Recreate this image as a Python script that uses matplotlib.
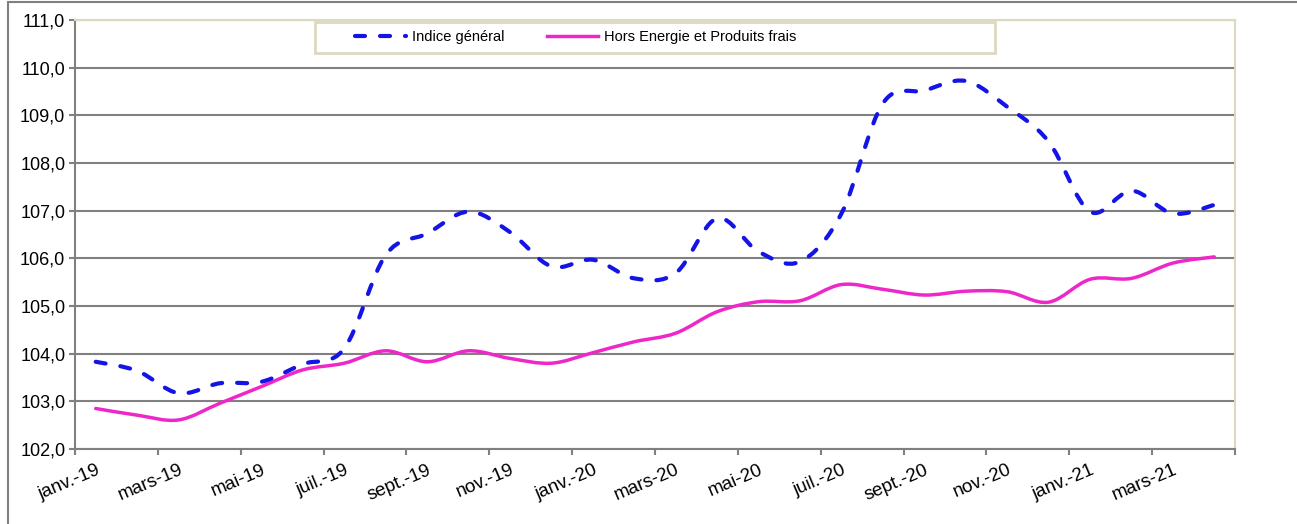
import matplotlib
matplotlib.use("Agg")
import matplotlib.pyplot as plt
import numpy as np
from matplotlib.path import Path
from matplotlib.patches import PathPatch, Rectangle
from matplotlib.lines import Line2D

plt.rcParams['font.family'] = ['Liberation Sans', 'DejaVu Sans']

months = ['janv.-19', 'févr.-19', 'mars-19', 'avr.-19', 'mai-19', 'juin-19',
          'juil.-19', 'août-19', 'sept.-19', 'oct.-19', 'nov.-19', 'déc.-19',
          'janv.-20', 'févr.-20', 'mars-20', 'avr.-20', 'mai-20', 'juin-20',
          'juil.-20', 'août-20', 'sept.-20', 'oct.-20', 'nov.-20', 'déc.-20',
          'janv.-21', 'févr.-21', 'mars-21', 'avr.-21']

indice_general = [103.83, 103.64, 103.17, 103.38, 103.41, 103.78, 104.11, 106.07,
                  106.52, 106.98, 106.55, 105.83, 105.97, 105.58, 105.69, 106.84,
                  106.14, 105.93, 106.94, 109.25, 109.52, 109.72, 109.18, 108.45,
                  106.98, 107.42, 106.94, 107.12]

hors_energie = [102.85, 102.71, 102.61, 102.96, 103.31, 103.66, 103.80, 104.06,
                103.83, 104.06, 103.90, 103.80, 104.02, 104.25, 104.43, 104.88,
                105.09, 105.11, 105.45, 105.35, 105.23, 105.31, 105.30, 105.08,
                105.56, 105.58, 105.90, 106.03]

blue = '#1414E6'
pink = '#EE28C8'
grey = '#808080'
beige = '#DDD8C0'
dash = (0, (2.4, 3.6))


def smooth_path(xs, ys):
    # Excel-like smoothed line: cubic Bezier through the points
    pts = np.column_stack([xs, ys]).astype(float)
    n = len(pts)
    verts = [tuple(pts[0])]
    codes = [Path.MOVETO]
    for i in range(n - 1):
        p0 = pts[i - 1] if i > 0 else pts[i]
        p3 = pts[i + 2] if i + 2 < n else pts[i + 1]
        c1 = pts[i] + (pts[i + 1] - p0) / 6
        c2 = pts[i + 1] - (p3 - pts[i]) / 6
        verts += [tuple(c1), tuple(c2), tuple(pts[i + 1])]
        codes += [Path.CURVE4] * 3
    return Path(verts, codes)


fig = plt.figure(figsize=(12.97, 5.24), dpi=100)
ax = fig.add_axes([75 / 1297, 1 - 449 / 524, 1160 / 1297, 429 / 524])

x = np.arange(len(months))

ax.add_patch(PathPatch(smooth_path(x, hors_energie), fill=False, edgecolor=pink,
                       lw=2.5, capstyle='round', joinstyle='round', zorder=3))
ax.add_patch(PathPatch(smooth_path(x, indice_general), fill=False, edgecolor=blue,
                       lw=3, linestyle=dash, capstyle='round',
                       joinstyle='round', zorder=4))

ax.set_xlim(-0.5, len(months) - 0.5)
ax.set_ylim(102, 111)
yt = np.arange(102, 111.1, 1)
ax.set_yticks(yt)
ax.set_yticklabels([f'{v:.1f}'.replace('.', ',') for v in yt])
ax.yaxis.grid(True, color=grey, lw=1.5)
ax.set_axisbelow(True)

ax.set_xticks(np.arange(-0.5, len(months), 2))
ax.set_xticklabels([])
ax.set_xticks(x[::2], minor=True)
ax.set_xticklabels(months[::2], minor=True, rotation=23, ha='right',
                   rotation_mode='anchor', fontsize=13.5)
ax.tick_params(axis='x', which='minor', length=0, pad=9)
ax.tick_params(axis='x', which='major', length=4, color=grey, width=1.5, direction='out')
ax.tick_params(axis='y', length=4, color=grey, width=1.5, labelsize=13, pad=3)

for s in ['left', 'bottom']:
    ax.spines[s].set_color(grey)
    ax.spines[s].set_linewidth(1.5)
for s in ['top', 'right']:
    ax.spines[s].set_color(beige)
    ax.spines[s].set_linewidth(1.5)

# outer chart frame
fig.patches.append(Rectangle((8 / 1297, -0.1), 1.2, 1.1 - 2 / 524, transform=fig.transFigure,
                             fill=False, edgecolor=grey, lw=1.5, zorder=1))

# legend box
fig.patches.append(Rectangle((315 / 1297, 1 - 53 / 524), 680 / 1297, 31 / 524,
                             transform=fig.transFigure, facecolor='white',
                             edgecolor=beige, lw=2, zorder=4))
handles = [Line2D([], [], color=blue, lw=3, linestyle=dash, dash_capstyle='round'),
           Line2D([], [], color=pink, lw=2.5)]
fig.legend(handles, ['Indice général', 'Hors Energie et Produits frais'],
           loc='center left', bbox_to_anchor=(355 / 1297, 1 - 37.5 / 524), ncol=2,
           frameon=False, fontsize=10.5,
           handlelength=3.5, handletextpad=0.4, columnspacing=2.9,
           borderpad=0, borderaxespad=0)

fig.savefig('out.png', dpi=100)
